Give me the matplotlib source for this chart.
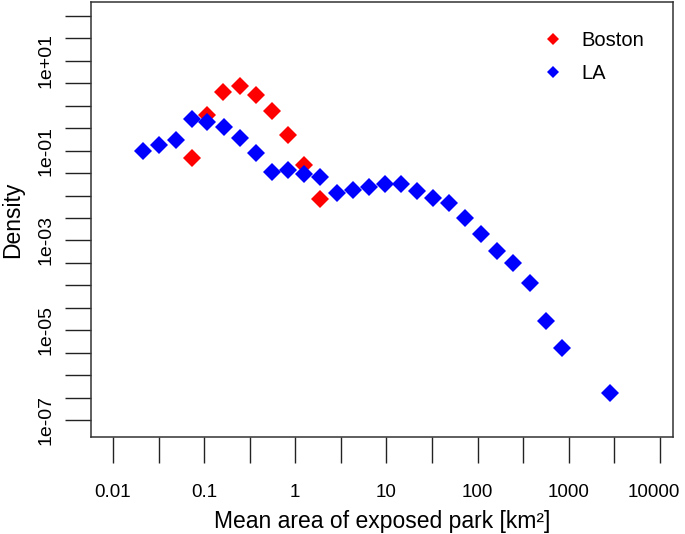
import numpy as np
import matplotlib
matplotlib.use('Agg')
import matplotlib.pyplot as plt
from matplotlib.transforms import ScaledTranslation

plt.rcParams['font.family'] = ['Liberation Sans', 'DejaVu Sans']

# values (log-binned densities)
la_area = [0.0215, 0.0322, 0.0487, 0.0730, 0.108, 0.165, 0.247, 0.370, 0.555, 0.831,
           1.254, 1.865, 2.84, 4.26, 6.43, 9.62, 14.4, 21.8, 32.6, 48.8,
           73.1, 109.6, 164, 246, 372, 557, 841, 2827]
la_density = [0.100, 0.134, 0.173, 0.500, 0.443, 0.343, 0.195, 0.090, 0.033, 0.0366,
              0.0303, 0.0264, 0.0112, 0.0133, 0.0158, 0.0179, 0.0179, 0.0129, 0.0087, 0.00674,
              0.00317, 0.00142, 5.74e-4, 3.2e-4, 1.15e-4, 1.61e-5, 4.03e-6, 4.07e-7]

boston_area = [0.0730, 0.108, 0.163, 0.247, 0.370, 0.555, 0.831, 1.254, 1.865]
boston_density = [0.0698, 0.624, 2.06, 2.76, 1.71, 0.778, 0.227, 0.0473, 0.00828]

xtick_exp = np.arange(-2, 4.01, 0.5)
xtick_labels = ['0.01', '', '0.1', '', '1', '', '10', '', '100', '', '1000', '', '10000']
ytick_exp = np.arange(-7, 2.01, 0.5)
ytick_labels = {-7: '1e-07', -5: '1e-05', -3: '1e-03', -1: '1e-01', 1: '1e+01'}

fig = plt.figure(figsize=(6.85, 5.34), dpi=100)
ax = fig.add_axes([0.1328, 0.1816, 0.8496, 0.8146])

ax.plot(boston_area, boston_density, 'D', color='red', ms=8.7, mew=0, label='Boston')
ax.plot(la_area, la_density, 'D', color='blue', ms=8.7, mew=0, label='LA')

ax.set_xscale('log')
ax.set_yscale('log')
ax.set_xlim(10 ** -2.241, 10 ** 4.143)
ax.set_ylim(10 ** -7.379, 10 ** 2.312)

ax.minorticks_off()
ax.set_xticks(10 ** xtick_exp)
ax.set_xticklabels(xtick_labels)
ax.set_yticks(10 ** ytick_exp)
ax.set_yticklabels([ytick_labels.get(int(e), '') if e == int(e) else '' for e in ytick_exp],
                   rotation=90, va='center')
ax.minorticks_off()

ax.tick_params(axis='x', length=19, width=1, pad=15, labelsize=13.5, color='#222222')
ax.tick_params(axis='y', length=19, width=1, pad=7, labelsize=14, color='#222222')
for s in ax.spines.values():
    s.set_linewidth(1.1)
    s.set_color('#333333')

# last label sits a little left of its tick so it stays inside the figure
last = ax.get_xticklabels()[-1]
last.set_transform(last.get_transform() + ScaledTranslation(-0.06, 0, fig.dpi_scale_trans))

ax.set_xlabel('Mean area of exposed park [km\u00b2]', fontsize=16.5, labelpad=6)
ax.set_ylabel('Density', fontsize=16.5, labelpad=10)

ax.legend(loc='upper left', bbox_to_anchor=(0.745, 0.975), frameon=False,
          fontsize=14.5, markerscale=0.7, handletextpad=0.9, labelspacing=0.7,
          handlelength=1.0)

fig.savefig('out.png', dpi=100)
